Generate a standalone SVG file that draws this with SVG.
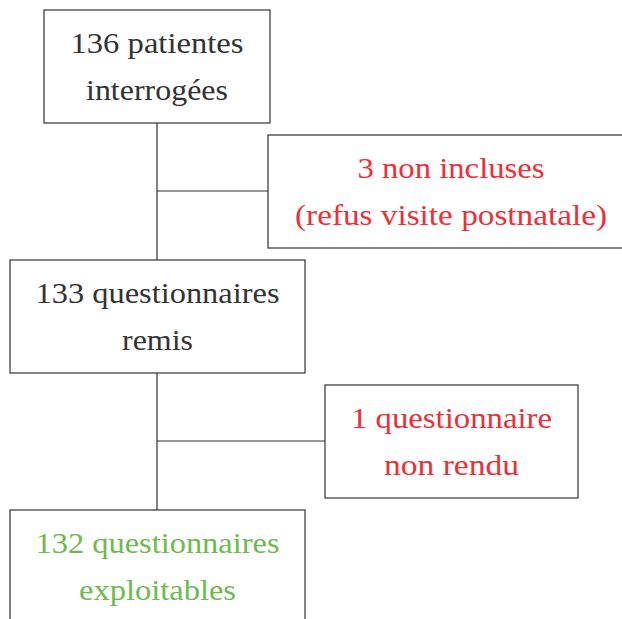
<svg xmlns="http://www.w3.org/2000/svg" width="622" height="619" viewBox="0 0 622 619">
<style>
rect{fill:#fff;stroke:#333;stroke-width:1.2}
svg g text{font-family:'Liberation Serif','Times New Roman',serif !important;font-size:29.5px;text-anchor:middle;fill:#333}
svg g.red text{fill:#ee2f37}
svg g.green text{fill:#6dbb4f}
#connectors path{stroke:#333;stroke-width:1.2;fill:none}
</style>
<rect x="0" y="0" width="622" height="619" style="stroke:none"/>
<g id="connectors">
<path d="M157,123V260M157,191H268M157,373V510M157,441H325"/>
</g>
<g id="n1">
<rect x="44" y="10" width="226" height="113"/>
<text x="157" y="53" textLength="173" lengthAdjust="spacingAndGlyphs" font-family="Liberation Serif, serif">136 patientes</text>
<text x="157" y="100" textLength="142" lengthAdjust="spacingAndGlyphs" font-family="Liberation Serif, serif">interrogées</text>
</g>
<g id="n2" class="red">
<rect x="268" y="135" width="370" height="113"/>
<text x="451" y="178" textLength="187" lengthAdjust="spacingAndGlyphs" font-family="Liberation Serif, serif">3 non incluses</text>
<text x="451" y="225" textLength="312" lengthAdjust="spacingAndGlyphs" font-family="Liberation Serif, serif">(refus visite postnatale)</text>
</g>
<g id="n3">
<rect x="10" y="260" width="295" height="113"/>
<text x="157.5" y="303" textLength="244" lengthAdjust="spacingAndGlyphs" font-family="Liberation Serif, serif">133 questionnaires</text>
<text x="157.5" y="350" textLength="71" lengthAdjust="spacingAndGlyphs" font-family="Liberation Serif, serif">remis</text>
</g>
<g id="n4" class="red">
<rect x="325" y="385" width="253" height="113"/>
<text x="451.5" y="428" textLength="201" lengthAdjust="spacingAndGlyphs" font-family="Liberation Serif, serif">1 questionnaire</text>
<text x="451.5" y="475" textLength="135" lengthAdjust="spacingAndGlyphs" font-family="Liberation Serif, serif">non rendu</text>
</g>
<g id="n5" class="green">
<rect x="10" y="510" width="295" height="130"/>
<text x="157.5" y="553" textLength="244" lengthAdjust="spacingAndGlyphs" font-family="Liberation Serif, serif">132 questionnaires</text>
<text x="157.5" y="600" textLength="157" lengthAdjust="spacingAndGlyphs" font-family="Liberation Serif, serif">exploitables</text>
</g>
</svg>
